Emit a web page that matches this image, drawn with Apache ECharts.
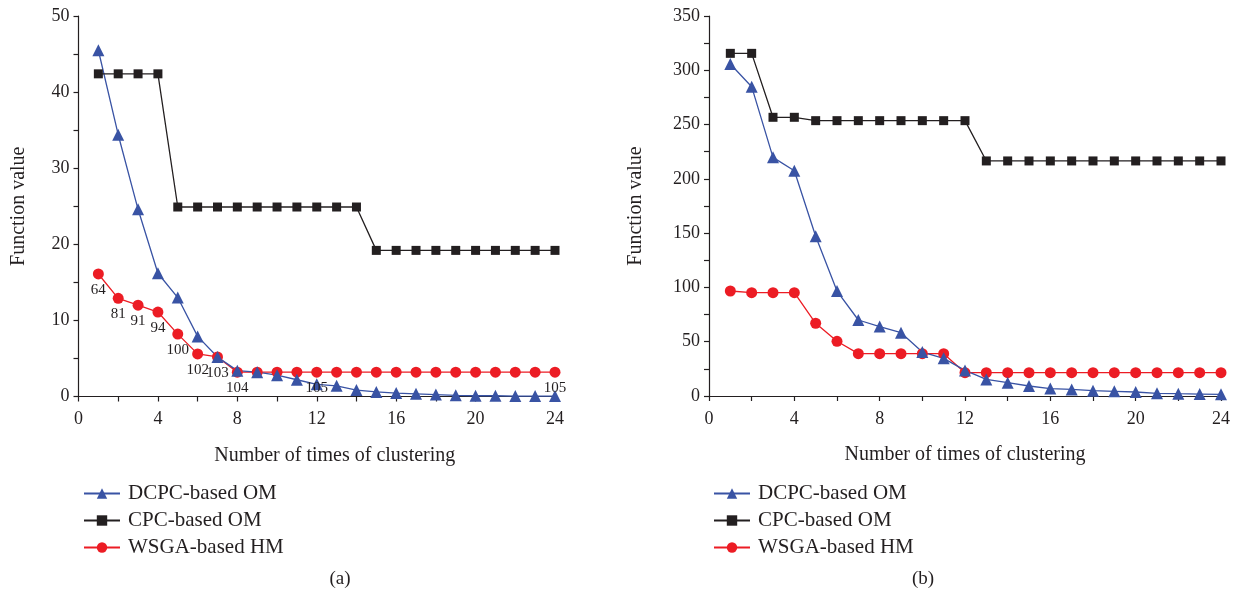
<!DOCTYPE html>
<html><head><meta charset="utf-8">
<script src="https://cdn.jsdelivr.net/npm/echarts@6/dist/echarts.min.js"></script>
<style>html,body{margin:0;padding:0;background:#fff}#c{width:1236px;height:596px}</style>
</head><body><div id="c"></div>
<script>
const xs = [1,2,3,4,5,6,7,8,9,10,11,12,13,14,15,16,17,18,19,20,21,22,23,24];
const seriesNames = ['DCPC-based OM','CPC-based OM','WSGA-based HM'];
// chart (a)
const dcpcA = [45.5,34.4,24.6,16.2,13.0,7.9,5.2,3.4,3.2,2.8,2.2,1.6,1.4,0.85,0.6,0.45,0.35,0.25,0.15,0.1,0.1,0.05,0.05,0.05];
const cpcA  = [42.4,42.4,42.4,42.4,24.9,24.9,24.9,24.9,24.9,24.9,24.9,24.9,24.9,24.9,19.2,19.2,19.2,19.2,19.2,19.2,19.2,19.2,19.2,19.2];
const wsgaA = [16.1,12.9,12.0,11.1,8.2,5.6,5.2,3.2,3.2,3.2,3.2,3.2,3.2,3.2,3.2,3.2,3.2,3.2,3.2,3.2,3.2,3.2,3.2,3.2];
const wsgaALabels = ['64','81','91','94','100','102','103','104','','','','105','','','','','','','','','','','','105'];
// chart (b)
const dcpcB = [305.8,284.9,219.8,207.5,147.2,96.7,70,63.9,58.3,40.5,34.7,23.6,15.3,12.3,9.2,6.8,6.1,4.9,4.3,3.7,2.5,2.1,1.8,1.5];
const cpcB  = [315.6,315.6,256.7,256.7,253.6,253.6,253.6,253.6,253.6,253.6,253.6,253.6,216.5,216.5,216.5,216.5,216.5,216.5,216.5,216.5,216.5,216.5,216.5,216.5];
const wsgaB = [96.7,95.2,95.2,95.2,67,50.4,39,39,39,39,39,21.5,21.5,21.5,21.5,21.5,21.5,21.5,21.5,21.5,21.5,21.5,21.5,21.5];
const xTicks = [0,4,8,12,16,20,24];
const subLabels = ['(a)','(b)'];

const FONT = '"Liberation Serif","DejaVu Serif",serif';
const TXT = '#231f20';
const BLUE = '#3953a4', BLACK = '#231f20', RED = '#ec1c24';
const pair = arr => arr.map((v,i)=>[xs[i], v]);

function xAxis(gi){
  return {
    type:'value', gridIndex:gi, min:0, max:24, interval:2,
    name:'Number of times of clustering', nameLocation:'middle', nameGap:49,
    nameTextStyle:{fontFamily:FONT,fontSize:20,color:TXT, padding: gi===0?[0,0,0,36]:0},
    axisLine:{show:true,lineStyle:{color:TXT,width:1.2}},
    axisTick:{show:true,inside:false,length:5,lineStyle:{color:TXT,width:1.2}},
    axisLabel:{fontFamily:FONT,fontSize:18,color:TXT,margin:14,
      formatter:v=> xTicks.includes(v)? String(v):''},
    splitLine:{show:false}
  };
}
function yAxis(gi,max,interval,major){
  return {
    type:'value', gridIndex:gi, min:0, max:max, interval:interval,
    name:'Function value', nameLocation:'middle', nameGap: gi===0?50:63,
    nameTextStyle:{fontFamily:FONT,fontSize:20,color:TXT},
    axisLine:{show:true,lineStyle:{color:TXT,width:1.2}},
    axisTick:{show:true,inside:false,length:5,lineStyle:{color:TXT,width:1.2}},
    axisLabel:{fontFamily:FONT,fontSize:18,color:TXT,margin:9,
      formatter:v=> (v%major===0)? String(v):''},
    splitLine:{show:false}
  };
}
function mk(name,data,gi,color,symbol,size,extra){
  return Object.assign({
    name, type:'line', xAxisIndex:gi, yAxisIndex:gi, data:pair(data),
    symbol, symbolSize:size, showSymbol:true,
    lineStyle:{color,width:1.3}, itemStyle:{color},
    animation:false
  }, extra||{});
}
const legendCommon = {
  orient:'vertical', itemWidth:36, itemHeight:13, itemGap:6,
  textStyle:{fontFamily:FONT,fontSize:21,color:TXT,padding:[0,0,0,3]}, data:seriesNames,
  selectedMode:false
};
const option = {
  backgroundColor:'#fff',
  animation:false,
  grid:[
    {left:78.5, right:681, top:16, bottom:199.5},
    {left:709, right:15, top:16, bottom:200}
  ],
  xAxis:[xAxis(0), xAxis(1)],
  yAxis:[yAxis(0,50,5,10), yAxis(1,350,25,50)],
  legend:[
    Object.assign({left:78, top:478}, legendCommon),
    Object.assign({left:708, top:478}, legendCommon)
  ],
  title:[
    {text:subLabels[0], left:335, top:565, textAlign:'center', textStyle:{fontFamily:FONT,fontSize:19,fontWeight:'normal',color:TXT}},
    {text:subLabels[1], left:918, top:565, textAlign:'center', textStyle:{fontFamily:FONT,fontSize:19,fontWeight:'normal',color:TXT}}
  ],
  series:[
    mk(seriesNames[2], wsgaA, 0, RED, 'circle', 11, {
      label:{show:true, position:'bottom', distance:3, fontFamily:FONT, fontSize:15, color:TXT,
        formatter:p=> wsgaALabels[p.dataIndex]}
    }),
    mk(seriesNames[0], dcpcA, 0, BLUE, 'triangle', 12),
    mk(seriesNames[1], cpcA, 0, BLACK, 'rect', 9),
    mk(seriesNames[2], wsgaB, 1, RED, 'circle', 11),
    mk(seriesNames[0], dcpcB, 1, BLUE, 'triangle', 12),
    mk(seriesNames[1], cpcB, 1, BLACK, 'rect', 9)
  ]
};
const chart = echarts.init(document.getElementById('c'), null, {renderer:'canvas'});
chart.setOption(option);
</script></body></html>
